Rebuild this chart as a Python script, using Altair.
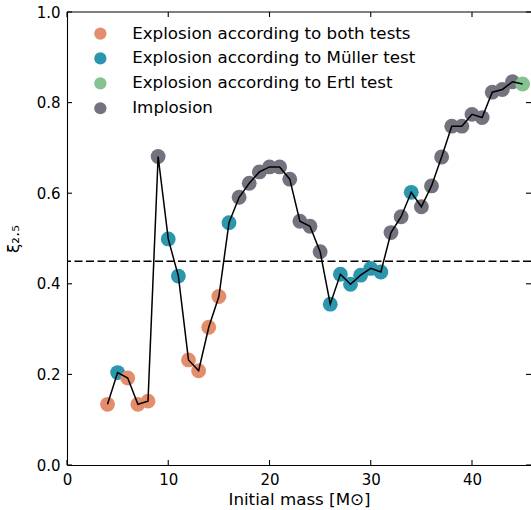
import altair as alt
import pandas as pd

mass = list(range(4, 46))
xi = [0.134, 0.204, 0.192, 0.134, 0.141, 0.681, 0.499, 0.417, 0.232, 0.208, 0.304, 0.372, 0.535,
      0.591, 0.622, 0.647, 0.658, 0.658, 0.631, 0.538, 0.527, 0.471, 0.355, 0.421, 0.399, 0.419, 0.434, 0.426,
      0.513, 0.548, 0.602, 0.570, 0.616, 0.680, 0.748, 0.748, 0.774, 0.767, 0.823, 0.829, 0.846, 0.841]
code = ["B", "M", "B", "B", "B", "I", "M", "M", "B", "B", "B", "B", "M",
        "I", "I", "I", "I", "I", "I", "I", "I", "I", "M", "M", "M", "M", "M", "M",
        "I", "I", "M", "I", "I", "I", "I", "I", "I", "I", "I", "I", "I", "E"]
labels = {
    "B": "Explosion according to both tests",
    "M": "Explosion according to Müller test",
    "E": "Explosion according to Ertl test",
    "I": "Implosion",
}
categories = [labels[k] for k in ["B", "M", "E", "I"]]
colors = ["#E38D6C", "#2B96AE", "#84C291", "#73727E"]
threshold = [0.45]
x_ticks = [0, 10, 20, 30, 40]
y_ticks = [0.0, 0.2, 0.4, 0.6, 0.8, 1.0]

W, H = 464, 453
FONT = "DejaVu Sans"

df = pd.DataFrame({"mass": mass, "xi": xi, "outcome": [labels[c] for c in code]})
df_th = pd.DataFrame({"y": threshold})
df_xt = pd.DataFrame({"t": x_ticks})
df_yt = pd.DataFrame({"t": y_ticks})

xscale = alt.Scale(domain=[0, W / 10.125], nice=False, zero=False)
yscale = alt.Scale(domain=[0, 1], nice=False, zero=False)

xaxis = alt.Axis(values=x_ticks, format="d", ticks=False, labelPadding=7, labelFlush=False,
                 title="Initial mass [M⊙]", titlePadding=4)
yaxis = alt.Axis(values=y_ticks, format=".1f", ticks=False, labelPadding=7, labelFlush=False,
                 title="ξ₂.₅", titlePadding=14)

dash = alt.Chart(df_th).mark_rule(color="black", strokeWidth=1.5, strokeDash=[8, 3.5]).encode(
    y=alt.Y("y:Q", scale=yscale, axis=yaxis)
)

points = alt.Chart(df).mark_circle(size=220, opacity=1).encode(
    x=alt.X("mass:Q", scale=xscale, axis=xaxis),
    y=alt.Y("xi:Q", scale=yscale, axis=yaxis),
    color=alt.Color("outcome:N", scale=alt.Scale(domain=categories, range=colors),
                    sort=categories,
                    legend=alt.Legend(title=None, orient="none", legendX=25, legendY=13.2,
                                      symbolType="circle", symbolSize=150, symbolStrokeWidth=0,
                                      symbolOpacity=1, labelFontSize=16.7, labelFont=FONT,
                                      labelColor="black", labelOffset=23.5, rowPadding=6.9,
                                      padding=0, labelLimit=400)),
)

line = alt.Chart(df).mark_line(color="black", strokeWidth=1.5).encode(
    x=alt.X("mass:Q", scale=xscale, axis=xaxis),
    y=alt.Y("xi:Q", scale=yscale, axis=yaxis),
)

tick_w = 1.1
xt_bottom = alt.Chart(df_xt).mark_rule(color="black", strokeWidth=tick_w).encode(
    x=alt.X("t:Q", scale=xscale, axis=xaxis), y=alt.value(H), y2=alt.value(H - 5))
xt_top = alt.Chart(df_xt).mark_rule(color="black", strokeWidth=tick_w).encode(
    x=alt.X("t:Q", scale=xscale, axis=xaxis), y=alt.value(0), y2=alt.value(5))
yt_left = alt.Chart(df_yt).mark_rule(color="black", strokeWidth=tick_w).encode(
    y=alt.Y("t:Q", scale=yscale, axis=yaxis), x=alt.value(0), x2=alt.value(5))
yt_right = alt.Chart(df_yt).mark_rule(color="black", strokeWidth=tick_w).encode(
    y=alt.Y("t:Q", scale=yscale, axis=yaxis), x=alt.value(W - 5), x2=alt.value(W))
top_spine = alt.Chart(df_th).mark_rule(color="black", strokeWidth=tick_w).encode(
    x=alt.value(0), x2=alt.value(W), y=alt.value(0))

chart = alt.layer(dash, points, line, xt_bottom, xt_top, yt_left, yt_right, top_spine).properties(
    width=W, height=H,
    autosize=alt.AutoSizeParams(type="none"),
    padding={"left": 67, "top": 12, "right": 0, "bottom": 45},
).configure_view(stroke=None).configure_axis(
    grid=False, domainColor="black", domainWidth=1.1,
    labelFont=FONT, labelFontSize=15, labelColor="black",
    titleFont=FONT, titleFontSize=16.7, titleFontWeight="normal", titleColor="black",
)

chart.save("out.html", embed_options={"renderer": "svg", "actions": False})
